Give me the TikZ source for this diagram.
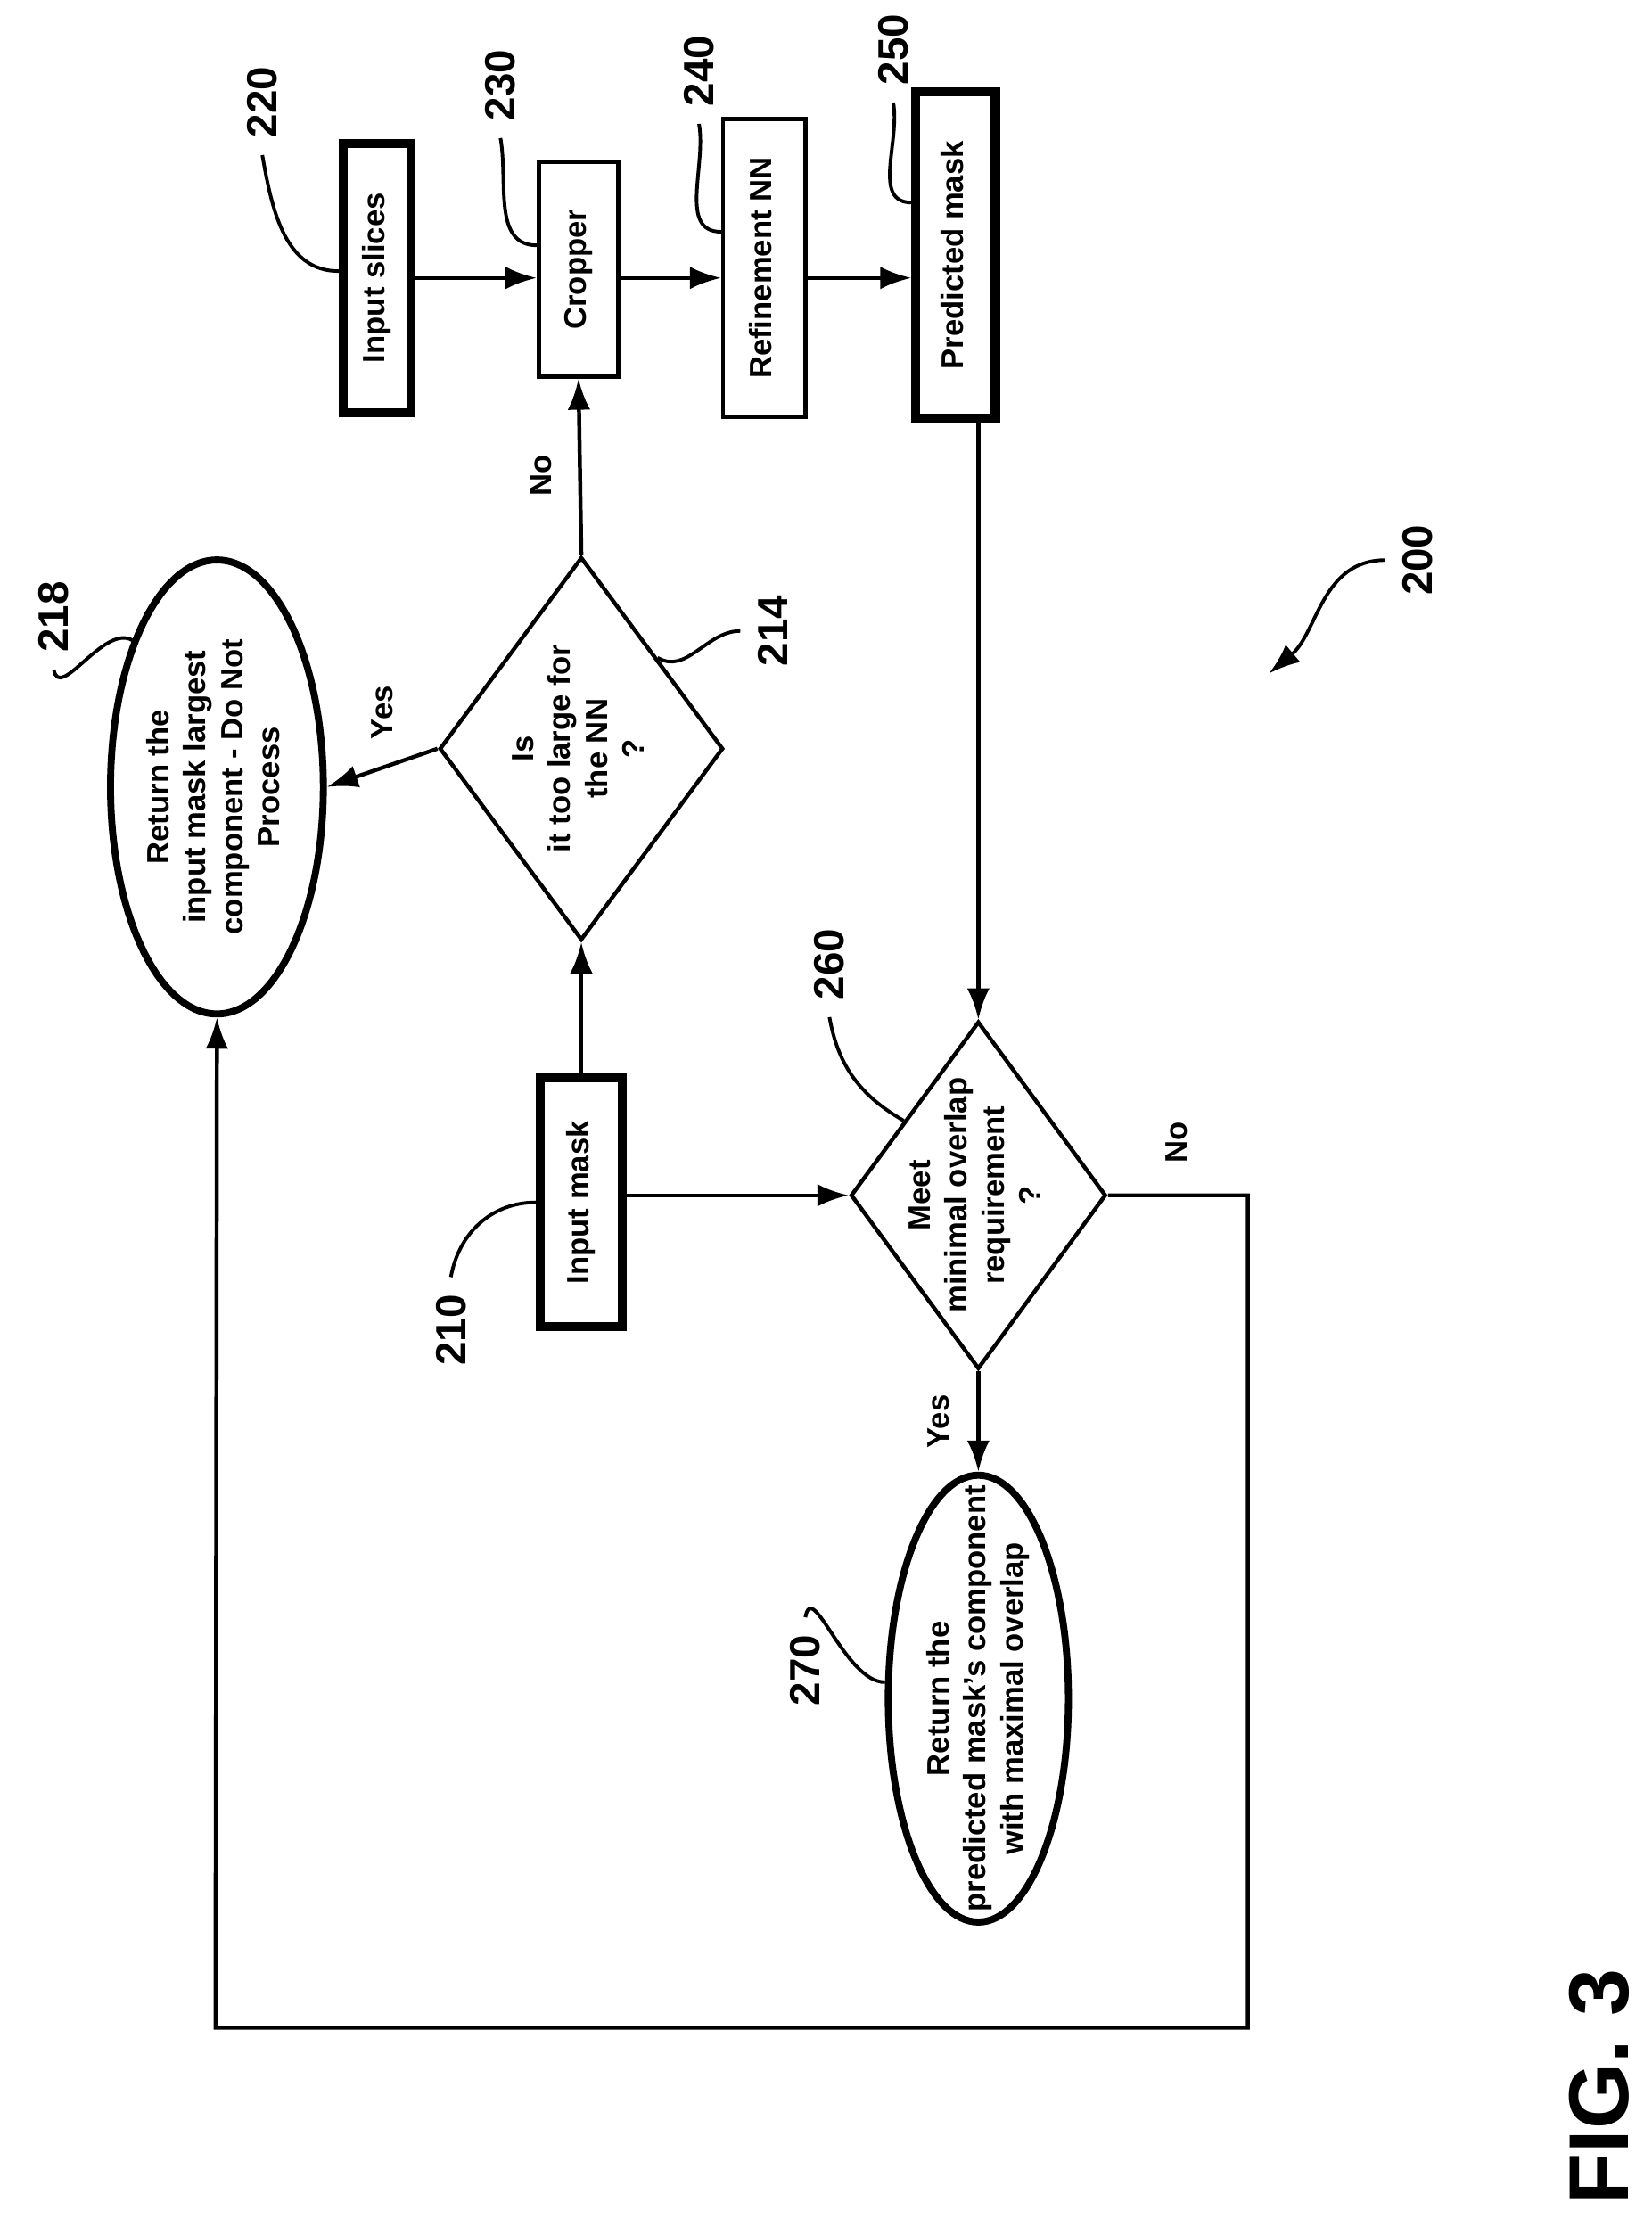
\documentclass[tikz,border=0pt]{standalone}
\usepackage{fontspec}
\setmainfont{Liberation Sans}
\usetikzlibrary{shapes.geometric,arrows.meta}
\tikzset{
  txt/.style={font=\bfseries\fontsize{6.2}{7.4}\selectfont, align=center},
  box/.style={draw, line width=0.8pt, inner sep=0pt, txt},
  heavy/.style={box, line width=1.8pt},
  dia/.style={draw, diamond, line width=0.8pt, inner sep=0pt, txt},
  oval/.style={draw, ellipse, line width=1.4pt, inner sep=0pt, txt},
  num/.style={font=\bfseries\fontsize{8.5}{10}\selectfont},
  flow/.style={line width=0.8pt, -{Latex[length=2.2mm,width=1.6mm]}},
  lead/.style={line width=0.7pt}
}
\newcommand{\rt}[1]{\rotatebox{90}{\begin{tabular}{@{}c@{}}#1\end{tabular}}}
\newcommand{\zb}[1]{\makebox[0pt]{\smash{\raisebox{-.5\height}{\rt{#1}}}}}
\begin{document}
\begin{tikzpicture}[x=0.01cm, y=-0.01cm]
  \useasboundingbox (0,0) rectangle (1165,1565);
  % boxes along the top
  \node[heavy, minimum width=0.48cm, minimum height=1.9cm] (slices) at (266,196) {\rt{Input slices}};
  \node[box, minimum width=0.56cm, minimum height=1.51cm] (crop) at (408,190) {\rt{Cropper}};
  \node[box, minimum width=0.58cm, minimum height=2.1cm] (refine) at (539,189) {\rt{Refinement NN}};
  \node[heavy, minimum width=0.56cm, minimum height=2.3cm] (pred) at (674,180) {\rt{Predicted mask}};
  \node[heavy, minimum width=0.58cm, minimum height=1.75cm] (mask) at (410,848) {\rt{Input mask}};
  % decisions
  \node[dia, minimum width=2.0cm, minimum height=2.7cm] (big) at (410,528) {\zb{Is\\it too large for\\the NN\\?}};
  \node[dia, minimum width=1.8cm, minimum height=2.45cm] (meet) at (690,843) {\zb{Meet\\minimal overlap\\requirement\\?}};
  % results
  \node[oval, minimum width=1.5cm, minimum height=3.2cm] (skip) at (153,555) {\zb{Return the\\input mask largest\\component - Do Not\\Process}};
  \node[oval, minimum width=1.27cm, minimum height=3.15cm] (ret) at (690,1198) {\zb{Return the\\predicted mask's component\\with maximal overlap}};

  % flow
  \draw[flow] (slices.east |- 0,196) -- (crop.west |- 0,196);
  \draw[flow] (crop.east |- 0,196) -- (refine.west |- 0,196);
  \draw[flow] (refine.east |- 0,196) -- (pred.west |- 0,196);
  \draw[flow] (mask.north) -- (big.south);
  \draw[flow] (big.north) -- node[txt, left=2pt, pos=0.45] {\rotatebox{90}{No}} (crop.south);
  \draw[flow] (big.west) -- node[txt, above=2pt] {\rotatebox{90}{Yes}} (skip.east);
  \draw[flow] (mask.east |- meet.west) -- (meet.west);
  \draw[flow] (pred.south -| meet.north) -- (meet.north);
  \draw[flow] (meet.south) -- node[txt, left=2pt] {\rotatebox{90}{Yes}} (ret.north);
  \draw[flow] (meet.east) -- (880,843) -- (880,1430) -- (152,1430) -- (skip.south);
  \node[txt, anchor=south west, xshift=8pt, yshift=3pt] (no2) at (meet.east) {\rotatebox{90}{No}};

  % reference numerals
  \node[num, rotate=90] (l220) at (185,72) {220};
  \node[num, rotate=90] (l230) at (353,60) {230};
  \node[num, rotate=90] (l240) at (493,50) {240};
  \node[num, rotate=90] (l250) at (630,35) {250};
  \node[num, rotate=90] (l214) at (545,445) {214};
  \node[num, rotate=90] (l218) at (38,435) {218};
  \node[num, rotate=90] (l210) at (318,938) {210};
  \node[num, rotate=90] (l260) at (585,680) {260};
  \node[num, rotate=90] (l270) at (568,1178) {270};
  \node[num, rotate=90] (l200) at (1000,395) {200};
  \coordinate (p200) at (895,475);
  \draw[lead] (l220.west) to[out=-80, in=180] (slices.170);
  \draw[lead] (l230.west) to[out=-80, in=180] (crop.150);
  \draw[lead] (l240.west) to[out=-80, in=180] (refine.140);
  \draw[lead] (l250.west) to[out=-80, in=180] (pred.130);
  \draw[lead] (l214.north) to[out=180, in=-30] (big.50);
  \draw[lead] (l218.west) to[out=-80, in=150] (skip.120);
  \draw[lead] (l210.east) to[out=80, in=180] (mask.west);
  \draw[lead] (l260.west) to[out=-80, in=150] (meet.135);
  \draw[lead] (l270.east) to[out=80, in=180] (ret.170);
  \draw[lead, -{Latex[length=2.2mm,width=1.6mm]}] (l200.north) to[out=180, in=40] (p200);

  \node[font=\bfseries\fontsize{17}{20}\selectfont, rotate=90] (fig) at (1128,1472) {FIG. 3};
\end{tikzpicture}
\end{document}
